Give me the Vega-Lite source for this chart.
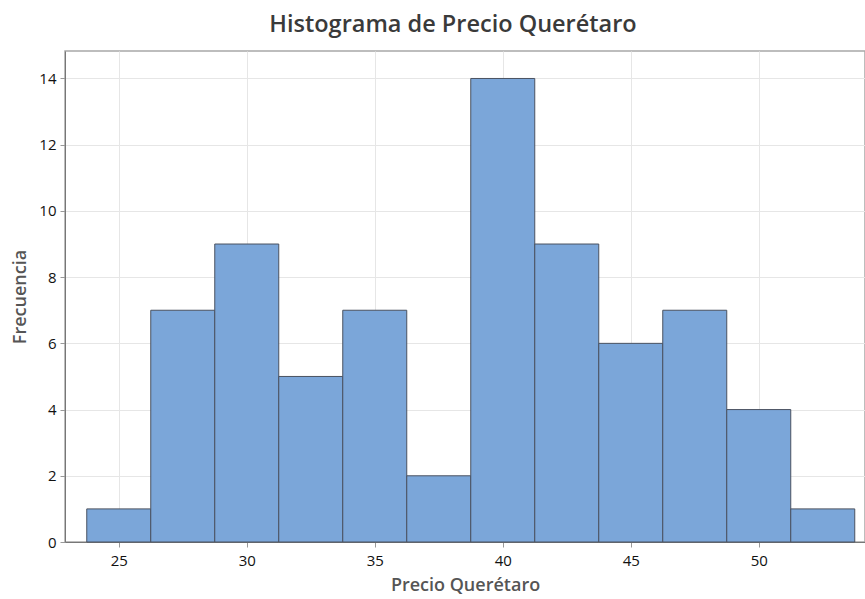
{
  "$schema": "https://vega.github.io/schema/vega-lite/v6.json",
  "width": 800,
  "height": 491,
  "autosize": {"type": "none"},
  "padding": {"left": 65, "top": 51, "right": 0, "bottom": 57},
  "background": "white",
  "title": {
    "text": "Histograma de Precio Querétaro",
    "anchor": "middle",
    "dx": -12,
    "offset": 15,
    "font": "Open Sans",
    "fontSize": 23.5,
    "fontWeight": 600,
    "color": "#3a3a3a"
  },
  "config": {
    "view": {"stroke": "#a8a8a8", "strokeWidth": 1.5},
    "axis": {
      "labelFont": "Open Sans",
      "labelFontSize": 15,
      "labelFontWeight": 500,
      "labelColor": "#111111",
      "titleFont": "Open Sans",
      "titleFontSize": 18,
      "titleFontWeight": 600,
      "titleColor": "#555555",
      "domainColor": "#777777",
      "tickColor": "#999999",
      "tickSize": 5,
      "gridColor": "#e6e6e6",
      "gridWidth": 1
    }
  },
  "data": {
    "values": [
      {"inicio": 23.75, "fin": 26.25, "frecuencia": 1},
      {"inicio": 26.25, "fin": 28.75, "frecuencia": 7},
      {"inicio": 28.75, "fin": 31.25, "frecuencia": 9},
      {"inicio": 31.25, "fin": 33.75, "frecuencia": 5},
      {"inicio": 33.75, "fin": 36.25, "frecuencia": 7},
      {"inicio": 36.25, "fin": 38.75, "frecuencia": 2},
      {"inicio": 38.75, "fin": 41.25, "frecuencia": 14},
      {"inicio": 41.25, "fin": 43.75, "frecuencia": 9},
      {"inicio": 43.75, "fin": 46.25, "frecuencia": 6},
      {"inicio": 46.25, "fin": 48.75, "frecuencia": 7},
      {"inicio": 48.75, "fin": 51.25, "frecuencia": 4},
      {"inicio": 51.25, "fin": 53.75, "frecuencia": 1}
    ]
  },
  "mark": {"type": "rect", "fill": "#7ba6d9", "stroke": "#4a5260", "strokeWidth": 1},
  "encoding": {
    "x": {
      "field": "inicio",
      "type": "quantitative",
      "scale": {"domain": [22.9, 54.15], "nice": false, "zero": false},
      "axis": {
        "title": "Precio Querétaro",
        "values": [25, 30, 35, 40, 45, 50],
        "titlePadding": 8,
        "labelPadding": 6
      }
    },
    "x2": {"field": "fin"},
    "y": {
      "field": "frecuencia",
      "type": "quantitative",
      "scale": {"domain": [0, 14.83], "nice": false},
      "axis": {
        "title": "Frecuencia",
        "values": [0, 2, 4, 6, 8, 10, 12, 14],
        "titlePadding": 9,
        "labelPadding": 4
      }
    }
  }
}
